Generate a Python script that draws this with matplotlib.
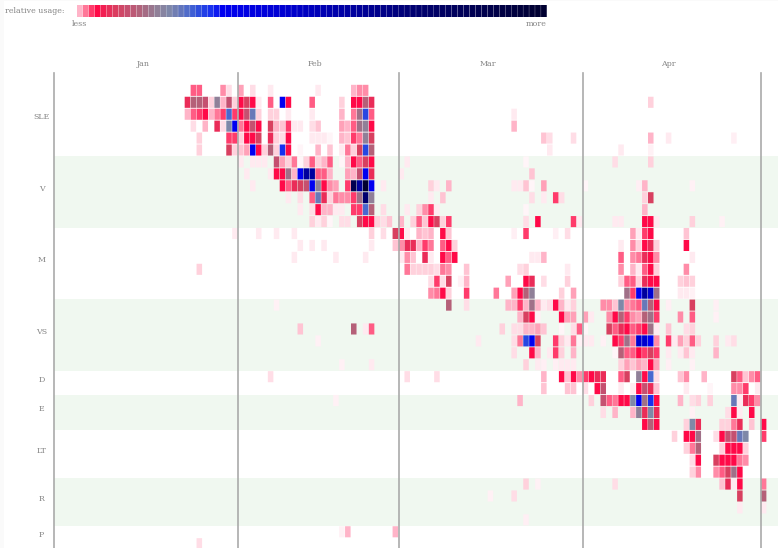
import numpy as np
import matplotlib
matplotlib.use('Agg')
import matplotlib.pyplot as plt
from matplotlib.colors import LinearSegmentedColormap, Normalize
from matplotlib.patches import Rectangle

W, H = 778, 548

section_names = ['SLE', 'V', 'M', 'VS', 'D', 'E', 'LT', 'R', 'P']
month_names = ['Jan', 'Feb', 'Mar', 'Apr']
month_starts = [0, 31, 58, 89, 119]
month_centers = [15, 44, 73, 103.5]

# each row: {day index: usage level}, levels (0.5 - 14.5)
sle_rows = [
    {23: 5, 24: 5, 28: 4, 29: 1.5, 31: 3.5, 33: 1.5, 36: 1, 44: 1, 50: 3, 51: 4, 52: 4},
    {22: 6.5, 23: 8, 24: 8, 25: 7.5, 26: 2, 27: 9, 28: 3, 29: 7.5, 30: 2, 31: 6, 32: 7, 33: 6, 34: 1,
     36: 5, 38: 12, 39: 6, 43: 5, 48: 2, 50: 6, 51: 6, 52: 8, 53: 6.5, 100: 2},
    {22: 3, 23: 5, 24: 5.5, 25: 6, 26: 3, 27: 4.5, 28: 5.5, 29: 10.5, 30: 5.5, 31: 6, 32: 7.5, 33: 10,
     34: 2, 36: 2, 37: 2, 39: 1, 43: 1, 48: 3, 50: 4.5, 51: 8.5, 52: 11, 53: 5, 77: 1},
    {23: 1.5, 25: 3, 27: 6.5, 28: 1.5, 29: 9.5, 30: 12, 31: 4.5, 32: 6, 33: 7.5, 34: 6, 36: 7, 37: 3,
     38: 2.5, 39: 5.5, 40: 1, 41: 1, 43: 1.5, 44: 2.5, 48: 3.5, 49: 3, 50: 5, 51: 8.5, 52: 9, 53: 6, 77: 3},
    {24: 2, 29: 5.5, 30: 5.5, 31: 2, 32: 6, 33: 6, 34: 7, 36: 6.5, 37: 2, 38: 1.5, 39: 6, 43: 1, 44: 1,
     45: 1, 46: 0.5, 48: 3, 49: 2.5, 50: 5.5, 51: 4.5, 52: 9, 53: 7, 82: 2.5, 83: 1.5, 87: 1.5, 100: 3,
     103: 1, 114: 0.8},
    {24: 2, 29: 7, 30: 2, 31: 2.5, 32: 3.5, 33: 12, 34: 6, 35: 2, 36: 8, 37: 2, 38: 11.5, 39: 6, 41: 0.5,
     44: 3, 46: 2.5, 48: 1, 49: 4.5, 50: 2, 51: 7, 52: 11, 53: 8, 83: 1, 95: 1, 100: 0.7},
]
v_rows = [
    {31: 1, 33: 1, 34: 1, 35: 1, 37: 7.5, 38: 3.5, 39: 2, 40: 4.5, 41: 0.5, 42: 2, 43: 5, 44: 2, 45: 3,
     46: 5, 48: 0.5, 49: 3, 50: 6, 51: 5, 52: 7, 53: 6, 59: 1, 79: 0.5, 94: 1.5, 100: 2},
    {32: 1, 36: 1, 37: 6, 38: 6, 39: 8.5, 40: 3, 41: 12, 42: 13, 43: 13, 44: 5, 45: 5, 46: 3, 49: 3.5,
     50: 3, 51: 7.5, 52: 12, 53: 6.5, 58: 1, 80: 2.5},
    {33: 1, 38: 6, 39: 5, 40: 6.5, 41: 7, 42: 7.5, 43: 12, 44: 9, 45: 6, 46: 4, 47: 3.5, 49: 5.5, 50: 14,
     51: 13, 52: 14.5, 53: 12, 55: 1, 63: 2, 64: 1, 66: 3, 77: 1, 78: 1, 79: 2.5, 80: 0.5, 82: 3.5,
     89: 0.5, 98: 0.8, 99: 3, 107: 0.7},
    {39: 1, 41: 1.5, 43: 5, 44: 10, 45: 6.5, 46: 2, 47: 4.5, 48: 4, 49: 4, 50: 5.5, 51: 8.5, 52: 13.5,
     53: 9, 63: 1, 65: 2.5, 80: 1.5, 82: 1, 84: 5.5, 85: 1.5, 99: 2, 100: 7},
    {41: 1, 43: 1.5, 44: 6, 45: 3, 46: 3, 47: 1, 48: 1, 50: 5.5, 51: 5.5, 52: 10.5, 53: 8, 55: 1.5, 59: 1,
     61: 2, 62: 4, 63: 5.5, 64: 1, 79: 0.5, 99: 3},
    {43: 2, 44: 1, 45: 2, 46: 0.5, 48: 1.5, 49: 1.5, 51: 7, 52: 6, 53: 6, 54: 2, 55: 1.5, 56: 2.5, 58: 3,
     60: 2, 61: 5, 62: 2.5, 63: 6, 64: 7, 65: 2, 66: 5.5, 79: 1.5, 81: 6, 87: 5.5, 88: 1, 94: 1, 95: 1,
     99: 6, 100: 6, 101: 1, 107: 2, 112: 0.7},
]
m_rows = [
    {30: 1, 34: 1, 37: 1, 40: 1, 53: 2, 55: 1.5, 57: 7, 58: 6, 59: 1, 61: 3, 62: 2.5, 63: 3, 65: 6, 66: 2.5,
     77: 0.8, 79: 5.5, 84: 0.8, 86: 1.5, 97: 3.5, 98: 1, 99: 5.5, 100: 6, 106: 2.5},
    {41: 1, 43: 1, 45: 1, 53: 1, 57: 2.5, 58: 4, 59: 6.5, 60: 6.5, 61: 3, 62: 5.5, 63: 4.5, 65: 5, 66: 6,
     67: 2, 95: 1, 97: 4, 98: 2, 99: 6, 100: 6.5, 101: 2, 106: 6},
    {40: 1, 47: 1, 52: 1, 58: 1, 59: 4, 60: 2.5, 62: 6.5, 63: 1, 65: 6, 66: 5, 67: 6, 80: 1, 81: 1, 82: 3,
     95: 5, 97: 4, 98: 4.5, 99: 6.5, 100: 6, 101: 4, 107: 1},
    {24: 2, 59: 4.5, 60: 2, 61: 2, 62: 2, 63: 2, 64: 1.5, 65: 4.5, 66: 4, 69: 2.5, 78: 1.5, 79: 2, 86: 1,
     95: 4, 97: 3, 98: 1, 99: 5, 100: 6, 101: 2, 106: 4},
    {63: 1.5, 64: 5.5, 65: 1.5, 66: 7, 68: 0.7, 69: 3, 76: 3.5, 79: 6, 80: 6.5, 82: 1.5, 86: 2, 95: 2, 96: 5,
     97: 5, 98: 2, 99: 6.5, 100: 6, 101: 6, 105: 2, 106: 2.5, 107: 2},
    {63: 4, 64: 4.5, 65: 6, 66: 2, 69: 5.5, 74: 4.5, 77: 3.5, 78: 6, 79: 8, 80: 9, 85: 2, 87: 3.5, 96: 8.5,
     97: 5.5, 98: 12, 99: 13, 100: 12.5, 101: 8.5, 105: 1, 106: 1, 107: 0.7},
]
vs_rows = [
    {37: 0.7, 66: 8, 69: 1.5, 76: 3, 77: 3, 78: 5.5, 79: 3, 80: 8.5, 81: 3, 82: 1, 83: 1.5, 84: 6, 85: 3,
     86: 1, 87: 2, 92: 4, 93: 4, 94: 2.5, 95: 9.5, 96: 4, 97: 4.5, 98: 5, 99: 10, 100: 8, 101: 6, 103: 0.8,
     107: 7, 111: 0.8},
    {78: 3, 79: 7, 80: 6, 81: 0.7, 85: 6, 86: 3.5, 87: 3.5, 89: 3.5, 90: 1, 93: 4, 94: 6, 95: 8, 96: 5.5,
     97: 4, 98: 3.5, 99: 8, 100: 8.5, 101: 5.5, 105: 4, 107: 5, 111: 0.7},
    {41: 2.5, 50: 8, 52: 1, 53: 5, 75: 2, 77: 1.5, 78: 1.5, 79: 3, 80: 3, 81: 3.5, 82: 2.5, 85: 0.5, 87: 1.5,
     88: 5, 89: 0.5, 93: 7, 94: 5, 95: 6.5, 96: 6, 97: 5, 98: 5.5, 99: 6, 100: 8.5, 101: 1, 103: 2.5, 106: 1.5,
     107: 2},
    {44: 0.7, 71: 1, 77: 1.5, 78: 4.5, 79: 11, 80: 12, 81: 7, 84: 5.5, 85: 2, 86: 1, 87: 4.5, 88: 0.7, 89: 1,
     90: 1, 92: 0.7, 94: 6, 95: 5.5, 96: 8.5, 97: 4.5, 98: 12.5, 99: 12.5, 100: 12, 101: 4, 103: 5.5, 104: 1,
     105: 3.5, 106: 2, 107: 5, 108: 2, 111: 2, 113: 1, 114: 1.5},
    {77: 1.5, 80: 6, 81: 3, 83: 1, 84: 5.5, 85: 2, 87: 3, 94: 0.5, 95: 8, 96: 5, 97: 5, 98: 6, 99: 5.5, 100: 7,
     101: 5.5, 103: 1, 105: 1, 106: 2.5, 107: 1, 111: 3},
    {48: 0.7, 53: 1, 79: 2, 81: 1, 82: 0.8, 84: 0.8, 85: 1, 86: 1, 87: 1, 95: 2, 96: 3.5, 97: 2.5, 98: 3.5,
     99: 3, 100: 6, 101: 3.5, 103: 0.8, 107: 0.7},
]
d_rows = [
    {36: 1.5, 59: 1.5, 64: 1.5, 82: 3, 85: 6, 86: 2.5, 87: 6, 88: 4, 89: 5.5, 90: 6, 91: 6.5, 92: 6.5, 95: 5,
     96: 7, 98: 9, 99: 6, 100: 10.5, 101: 1.5, 105: 2.5, 106: 4, 109: 3, 114: 7, 115: 5, 116: 2.5, 117: 4,
     118: 5},
    {82: 2.5, 86: 2.5, 87: 2.5, 89: 1.5, 91: 6, 92: 7.5, 95: 1, 97: 1, 98: 6, 99: 7.5, 100: 6.5, 101: 2.5,
     106: 1, 110: 0.5, 114: 4, 115: 4, 116: 5.5, 118: 1},
]
e_rows = [
    {47: 0.7, 78: 3, 90: 2, 92: 7.5, 93: 5, 94: 4.5, 95: 6, 96: 6, 97: 9.5, 98: 12, 99: 8.5, 100: 11.5, 101: 6,
     105: 3, 107: 1.5, 108: 2, 110: 2, 114: 10, 115: 1, 116: 6.5, 117: 5.5, 118: 4},
    {92: 1.5, 94: 3, 97: 3, 98: 9, 99: 6.5, 100: 9.5, 101: 6.5, 107: 0.7, 113: 1.5, 114: 6, 115: 1, 117: 6},
    {99: 6, 100: 8, 101: 6, 106: 2, 107: 9.5, 108: 6.5, 112: 2, 113: 2, 114: 4.5, 115: 6.5, 117: 2.5, 119: 6},
]
lt_rows = [
    {104: 2, 106: 6, 107: 6, 108: 8.5, 111: 1.5, 112: 6, 113: 7.5, 114: 7.5, 115: 10, 116: 9.5, 119: 5.5},
    {106: 2, 107: 4.5, 108: 8, 112: 2, 113: 6, 114: 6, 115: 6, 116: 2},
    {107: 1.5, 108: 6, 111: 7, 112: 6, 113: 6, 114: 6, 115: 4.5, 116: 4},
    {107: 2, 108: 4, 111: 4, 112: 5, 113: 7, 114: 8.5, 115: 6},
]
r_rows = [
    {79: 2, 81: 0.7, 94: 1.5, 112: 2.5, 113: 6.5, 114: 1, 115: 6, 119: 4.5},
    {73: 0.7, 77: 1.5, 115: 7, 119: 8},
    {115: 1, 119: 1},
    {79: 0.8},
]
p_rows = [
    {48: 0.7, 49: 3, 57: 3},
    {24: 1.5},
]
all_sections = [sle_rows, v_rows, m_rows, vs_rows, d_rows, e_rows, lt_rows, r_rows, p_rows]

# level -> colour, the scale goes pink, red, grey, blue, navy
level_colors = ['#fff5f8', '#ffeaf0', '#ffdde6', '#ffd0dc', '#ffc4d3', '#ffb4c8', '#ffa0b8', '#ff8ca8',
                '#ff7798', '#ff5c84', '#ff3a6a', '#ff0a48', '#ea2c58', '#d84060', '#c55070', '#b56078',
                '#a07088', '#908098', '#8088a8', '#6878b8', '#4868d0', '#2848e0', '#1830f0', '#0000f0',
                '#0000d0', '#0000a0', '#000070', '#000050', '#000030']
cmap = LinearSegmentedColormap.from_list('usage', level_colors, N=512)
norm = Normalize(0.5, 14.5)

plt.rcParams['font.family'] = ['DejaVu Serif']
txt = '#858585'
fs = 5.65

fig = plt.figure(figsize=(W / 100, H / 100), dpi=100, facecolor='white')
fig.add_artist(Rectangle((0, 0), 4 / W, 1, transform=fig.transFigure, fc='#fafafa', ec='none'))
fig.add_artist(Rectangle((0, 1 - 1 / H), 1, 1 / H, transform=fig.transFigure, fc='#fafafa', ec='none'))

# main chart, top of the axes is where the month lines start
day_px = 5.94
row_px = 11.93
top_px = 73
y0 = (top_px - 84.4) / row_px
ax = fig.add_axes([54 / W, 0, (W - 54) / W, (H - top_px) / H])
ax.set_xlim(0, (W - 54) / day_px)
ax.set_ylim((H - 84.4) / row_px, y0)
ax.axis('off')

start = 0
for i, (name, sec) in enumerate(zip(section_names, all_sections)):
    if i % 2 == 1:
        ax.axhspan(start, start + len(sec), color='#f0f8f0', lw=0, zorder=0)
    ax.text(-2.1, start + len(sec) / 2 - 0.25, name, ha='center', va='center', fontsize=fs, color=txt,
            clip_on=False)
    for j, row in enumerate(sec):
        days = list(row.keys())
        levels = list(row.values())
        # slightly narrow bars leave the thin pale gap between cells
        bars = ax.bar(days, 0.93, width=0.93, bottom=start + j + 0.035, align='edge',
                      color=cmap(norm(levels)), linewidth=0, zorder=1)
        for b in bars:
            b.set_snap(False)
    start += len(sec)

for m in month_starts:
    ax.axvline(m, color='#aaaaaa', lw=1.2, zorder=3, clip_on=False)
for name, c in zip(month_names, month_centers):
    ax.text(c, y0 - 0.75, name, ha='center', va='center', fontsize=fs, color=txt, clip_on=False)

# legend bar
bar_anchors = [0, 1, 2, 3, 13, 24, 78]
bar_levels = [3, 4.5, 5.5, 6, 9, 12, 14.5]
bar = np.interp(np.arange(79), bar_anchors, bar_levels)
cax = fig.add_axes([77 / W, 1 - 17 / H, 470 / W, 12 / H])
legend_bars = cax.bar(np.arange(79), 1, width=0.96, align='edge', color=cmap(norm(bar)), linewidth=0)
for b in legend_bars:
    b.set_snap(False)
cax.set_xlim(0, 79)
cax.set_ylim(0, 1)
cax.axis('off')
fig.text(5 / W, 1 - 11 / H, 'relative usage:', fontsize=fs, color=txt, va='center', ha='left')
fig.text(72 / W, 1 - 24.5 / H, 'less', fontsize=fs, color=txt, va='center', ha='left')
fig.text(547 / W, 1 - 24.5 / H, 'more', fontsize=fs, color=txt, va='center', ha='right')

fig.savefig('out.png', dpi=100)
